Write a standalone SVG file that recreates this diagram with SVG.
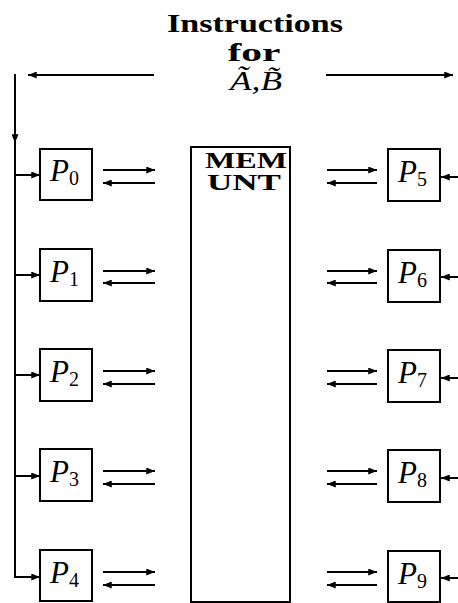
<svg xmlns="http://www.w3.org/2000/svg" width="458" height="603" viewBox="0 0 458 603">
<style>
.box{fill:#fff;stroke:#000;stroke-width:2}
.ln{fill:none;stroke:#000;stroke-width:2}
.t{font-family:"Liberation Serif","DejaVu Serif",serif;font-weight:bold;fill:#000}
.p{font-family:"Liberation Serif","DejaVu Serif",serif;font-style:italic;font-size:31px;fill:#000}
.s{font-style:normal;font-size:20px}
</style>
<defs>
<marker id="ah" viewBox="0 0 10 8" refX="10" refY="4" markerWidth="9" markerHeight="7" markerUnits="userSpaceOnUse" orient="auto">
<path d="M0,0 L10,4 L0,8 Z" fill="#000"/>
</marker>
</defs>
<rect width="458" height="603" fill="#fff"/>
<g id="title">
<text class="t" x="255" y="32" font-size="26" text-anchor="middle" textLength="176" lengthAdjust="spacingAndGlyphs">Instructions</text>
<text class="t" x="254" y="61" font-size="26" text-anchor="middle" textLength="53" lengthAdjust="spacingAndGlyphs">for</text>
<text x="256" y="90" font-family="Liberation Serif, DejaVu Serif, serif" font-style="italic" font-size="27" text-anchor="middle" textLength="52" lengthAdjust="spacingAndGlyphs">Ã,B̃</text>
</g>
<g id="connectors">
<line class="ln" x1="154" y1="75" x2="28" y2="75" marker-end="url(#ah)"/>
<line class="ln" x1="326" y1="75" x2="453" y2="75" marker-end="url(#ah)"/>
<line class="ln" x1="15" y1="74" x2="15" y2="143" marker-end="url(#ah)"/>
<path class="ln" d="M15,140 V577 H40" marker-end="url(#ah)"/>
<line class="ln" x1="15" y1="175" x2="40" y2="175" marker-end="url(#ah)"/>
<line class="ln" x1="15" y1="275" x2="40" y2="275" marker-end="url(#ah)"/>
<line class="ln" x1="15" y1="375" x2="40" y2="375" marker-end="url(#ah)"/>
<line class="ln" x1="15" y1="476" x2="40" y2="476" marker-end="url(#ah)"/>
<line class="ln" x1="103" y1="170" x2="155" y2="170" marker-end="url(#ah)"/>
<line class="ln" x1="155" y1="183" x2="103" y2="183" marker-end="url(#ah)"/>
<line class="ln" x1="103" y1="271" x2="155" y2="271" marker-end="url(#ah)"/>
<line class="ln" x1="155" y1="283" x2="103" y2="283" marker-end="url(#ah)"/>
<line class="ln" x1="103" y1="371" x2="155" y2="371" marker-end="url(#ah)"/>
<line class="ln" x1="155" y1="384" x2="103" y2="384" marker-end="url(#ah)"/>
<line class="ln" x1="103" y1="471" x2="155" y2="471" marker-end="url(#ah)"/>
<line class="ln" x1="155" y1="484" x2="103" y2="484" marker-end="url(#ah)"/>
<line class="ln" x1="103" y1="572" x2="155" y2="572" marker-end="url(#ah)"/>
<line class="ln" x1="155" y1="585" x2="103" y2="585" marker-end="url(#ah)"/>
<line class="ln" x1="327" y1="170" x2="377" y2="170" marker-end="url(#ah)"/>
<line class="ln" x1="377" y1="183" x2="327" y2="183" marker-end="url(#ah)"/>
<line class="ln" x1="327" y1="271" x2="377" y2="271" marker-end="url(#ah)"/>
<line class="ln" x1="377" y1="283" x2="327" y2="283" marker-end="url(#ah)"/>
<line class="ln" x1="327" y1="371" x2="377" y2="371" marker-end="url(#ah)"/>
<line class="ln" x1="377" y1="384" x2="327" y2="384" marker-end="url(#ah)"/>
<line class="ln" x1="327" y1="471" x2="377" y2="471" marker-end="url(#ah)"/>
<line class="ln" x1="377" y1="484" x2="327" y2="484" marker-end="url(#ah)"/>
<line class="ln" x1="327" y1="572" x2="377" y2="572" marker-end="url(#ah)"/>
<line class="ln" x1="377" y1="585" x2="327" y2="585" marker-end="url(#ah)"/>
<line class="ln" x1="458" y1="177" x2="441" y2="177" marker-end="url(#ah)"/>
<line class="ln" x1="458" y1="277" x2="441" y2="277" marker-end="url(#ah)"/>
<line class="ln" x1="458" y1="378" x2="441" y2="378" marker-end="url(#ah)"/>
<line class="ln" x1="458" y1="478" x2="441" y2="478" marker-end="url(#ah)"/>
<line class="ln" x1="458" y1="578" x2="441" y2="578" marker-end="url(#ah)"/>
</g>
<g id="MEM">
<rect class="box" x="191" y="147" width="99" height="455"/>
<text class="t" x="246" y="168" font-size="24" text-anchor="middle" textLength="82" lengthAdjust="spacingAndGlyphs">MEM</text>
<text class="t" x="244" y="190" font-size="24" text-anchor="middle" textLength="74" lengthAdjust="spacingAndGlyphs">UNT</text>
</g>
<g id="P0"><rect class="box" x="40" y="149" width="52" height="51"/><text class="p" x="50" y="181">P<tspan class="s" dy="4">0</tspan></text></g>
<g id="P1"><rect class="box" x="40" y="249" width="52" height="52"/><text class="p" x="50" y="282">P<tspan class="s" dy="4">1</tspan></text></g>
<g id="P2"><rect class="box" x="40" y="349" width="52" height="52"/><text class="p" x="50" y="382">P<tspan class="s" dy="4">2</tspan></text></g>
<g id="P3"><rect class="box" x="40" y="449" width="52" height="52"/><text class="p" x="50" y="482">P<tspan class="s" dy="4">3</tspan></text></g>
<g id="P4"><rect class="box" x="40" y="550" width="52" height="51"/><text class="p" x="50" y="583">P<tspan class="s" dy="4">4</tspan></text></g>
<g id="P5"><rect class="box" x="388" y="149" width="52" height="52"/><text class="p" x="398" y="182">P<tspan class="s" dy="4">5</tspan></text></g>
<g id="P6"><rect class="box" x="388" y="250" width="52" height="52"/><text class="p" x="398" y="283">P<tspan class="s" dy="4">6</tspan></text></g>
<g id="P7"><rect class="box" x="388" y="350" width="52" height="52"/><text class="p" x="398" y="383">P<tspan class="s" dy="4">7</tspan></text></g>
<g id="P8"><rect class="box" x="388" y="450" width="52" height="52"/><text class="p" x="398" y="483">P<tspan class="s" dy="4">8</tspan></text></g>
<g id="P9"><rect class="box" x="388" y="551" width="52" height="51"/><text class="p" x="398" y="584">P<tspan class="s" dy="4">9</tspan></text></g>
</svg>
